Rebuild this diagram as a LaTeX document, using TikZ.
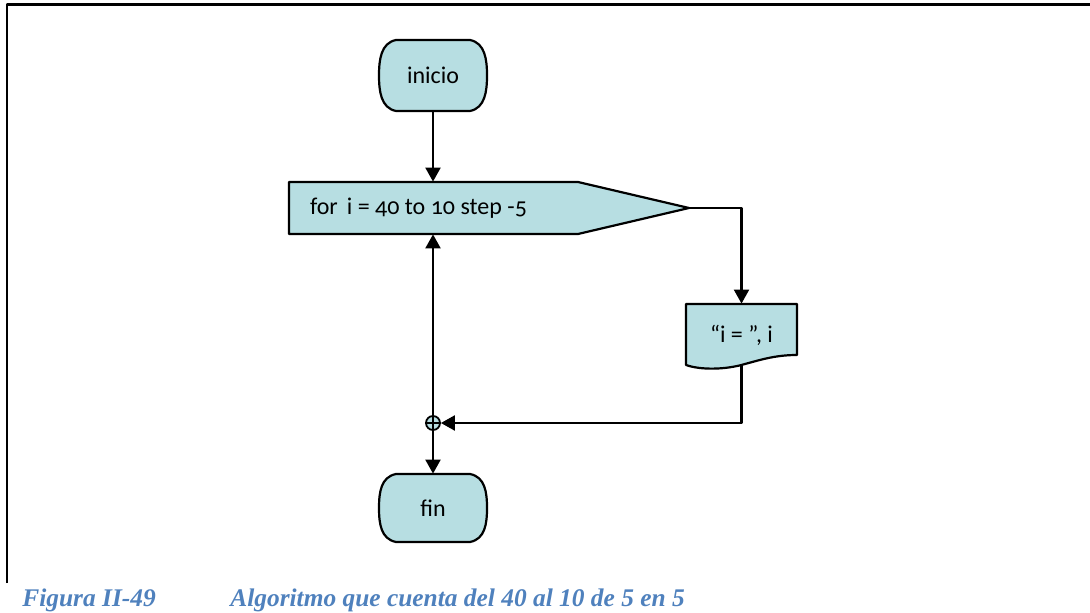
\documentclass[tikz,border=0pt]{standalone}
\usepackage{fontspec}
\setmainfont{Carlito}[Numbers=OldStyle]
\newfontfamily\capfont{Liberation Serif}
\usetikzlibrary{arrows.meta}
\definecolor{boxfill}{RGB}{183,222,226}
\definecolor{capcol}{RGB}{79,129,189}
% terminal (inicio / fin): straight top and bottom, bulging sides
\newcommand{\termshape}[3]{\draw[shapeline] (#1-37,#2-#3) -- (#1+37,#2-#3)
  .. controls (#1+52,#2-#3+3) and (#1+54,#2-16) .. (#1+54,#2)
  .. controls (#1+54,#2+16) and (#1+52,#2+#3-3) .. (#1+37,#2+#3)
  -- (#1-37,#2+#3)
  .. controls (#1-52,#2+#3-3) and (#1-54,#2+16) .. (#1-54,#2)
  .. controls (#1-54,#2-16) and (#1-52,#2-#3+3) .. cycle;}

\begin{document}
\begin{tikzpicture}[x=0.5pt, y=-0.5pt, line join=round,
  shapeline/.style={draw=black, line width=1.1pt, fill=boxfill},
  lbl/.style={font=\fontsize{12}{14}\selectfont, inner sep=0pt},
  flow/.style={line width=1.1pt, -{Triangle[width=7.5pt, length=7pt]}},
  joint/.style={circle, draw, line width=0.9pt, fill=boxfill, inner sep=0pt,
    minimum size=7pt, path picture={
      \draw[line width=0.9pt] (path picture bounding box.north) -- (path picture bounding box.south)
        (path picture bounding box.west) -- (path picture bounding box.east);}},
  caption/.style={font=\capfont\bfseries\itshape\fontsize{12.7}{15}\selectfont,
    text=capcol, inner sep=0pt, anchor=base west}]

\useasboundingbox (0,0) rectangle (1090,613);

% ------------------------------------------------------------------
% Page frame (top and left rule)
% ------------------------------------------------------------------
\draw[line width=1.2pt] (7,583) -- (7,4.5) -- (1095,4.5);

% ------------------------------------------------------------------
% Shapes first, so the labels sit on top of the fill
% ------------------------------------------------------------------
\termshape{433}{75.5}{35.5}                                        % inicio
\draw[shapeline] (289,182) -- (578,182) -- (689,208)
  -- (578,234) -- (289,234) -- cycle;                               % for loop
\draw[shapeline] (686,304) -- (797,304) -- (797,355)
  .. controls (775,355) and (760,360) .. (745,364)
  .. controls (725,370) and (700,370) .. (686,365) -- cycle;        % output
\termshape{433}{508}{34}                                           % fin

% ------------------------------------------------------------------
% Labels
% ------------------------------------------------------------------
\node[lbl, minimum width=53.5pt, minimum height=35.5pt] (inicio) at (433,75.5) {inicio};
\node[lbl, minimum width=200pt, minimum height=26pt, inner xsep=10.5pt] (loop) at (489,208)
  {\makebox[179pt][l]{for\hspace{4.5pt}i = 40 to 10 step -5}};
\node[lbl, minimum width=55.5pt, minimum height=31pt] (out) at (741.5,335) {“i = ”, i};
\node[lbl, minimum width=53.5pt, minimum height=34pt] (fin) at (433,508) {fin};
\node[joint] (join) at (433,423) {};

% ------------------------------------------------------------------
% Connectors
% ------------------------------------------------------------------
\draw[flow] (inicio.south) -- (inicio.south |- loop.north);
\draw[flow] (loop.east) -| (out.north);
\draw[flow] (out.south) |- (join);
\draw[flow] (join) -- (join |- loop.south);
\draw[flow] (join) -- (fin.north);

% ------------------------------------------------------------------
% Caption
% ------------------------------------------------------------------
\node[caption] (figno) at (22,606) {Figura II-49};
\node[caption] (figtitle) at (230,606) {Algoritmo que cuenta del 40 al 10 de 5 en 5};

\end{tikzpicture}
\end{document}
